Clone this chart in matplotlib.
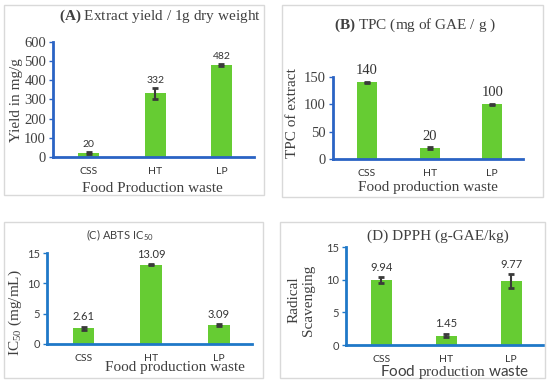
import matplotlib
matplotlib.use("Agg")
import matplotlib.pyplot as plt
from matplotlib.patches import Rectangle

W, H = 550, 383
DPI = 100

categories = ["CSS", "HT", "LP"]

yield_vals = [20, 332, 482]
yield_err = [5, 30, 5]

tpc_vals = [140, 20, 100]
tpc_err = [1.5, 1.5, 1.5]

abts_vals = [2.61, 13.09, 3.09]
abts_err = [0.25, 0.12, 0.2]

dpph_vals = [9.94, 1.45, 9.77]
dpph_err = [0.4, 0.3, 1.1]

SERIF = "Liberation Serif"
SANS = "Lato"
GREEN = "#66cc33"
ERRC = "#3a3a3a"
BORDER = "#d9d9d9"
TXT = "#404040"

plt.rcParams["mathtext.fontset"] = "custom"
plt.rcParams["mathtext.rm"] = SERIF
plt.rcParams["mathtext.it"] = SERIF + ":italic"
plt.rcParams["mathtext.bf"] = SERIF + ":bold"
plt.rcParams["mathtext.sf"] = SANS

fig = plt.figure(figsize=(W / DPI, H / DPI), dpi=DPI)
fig.patch.set_facecolor("white")


def fx(px):
    return px / W


def fy(py):
    return 1 - py / H


def box(x0, y0, x1, y1):
    fig.patches.append(Rectangle((fx(x0), fy(y1)), fx(x1) - fx(x0), fy(y0) - fy(y1),
                                 transform=fig.transFigure, fill=False,
                                 edgecolor=BORDER, linewidth=1.0))


def panel(x0, x1, ytop, ybot, vals, errs, ylim, yticks, spine_col,
          tick_font, tick_size, val_font, val_size, val_off):
    ax = fig.add_axes([fx(x0), fy(ybot), fx(x1) - fx(x0), fy(ytop) - fy(ybot)])
    xs = range(len(categories))
    ax.bar(xs, vals, width=0.32, color=GREEN, zorder=2)
    ax.errorbar(xs, vals, yerr=errs, fmt="none", ecolor=ERRC, elinewidth=1.5,
                capsize=2.5, capthick=2, zorder=3)
    ax.set_xlim(-0.54, 2.49)
    ax.set_ylim(*ylim)
    ax.set_yticks(yticks)
    for s in ["top", "right"]:
        ax.spines[s].set_visible(False)
    for s in ["left", "bottom"]:
        ax.spines[s].set_color(spine_col)
        ax.spines[s].set_linewidth(2)
    ax.tick_params(axis="x", length=0, pad=7, labelsize=7.5, labelcolor="#333333")
    ax.tick_params(axis="y", length=3, width=1, color=spine_col, pad=2,
                   labelsize=tick_size, labelcolor=TXT)
    ax.set_xticks(list(xs))
    ax.set_xticklabels(categories, fontfamily=SANS)
    for lab in ax.get_yticklabels():
        lab.set_fontfamily(tick_font)
    ax.patch.set_alpha(0)
    for x, v, e in zip(xs, vals, errs):
        txt = f"{v:g}" if isinstance(v, int) else f"{v:.2f}"
        ax.annotate(txt, xy=(x, v + e), xytext=(0, val_off), textcoords="offset points",
                    ha="center", va="bottom", fontfamily=val_font, fontsize=val_size,
                    color="#333333")
    return ax


# boxes
box(4, 5, 264, 195)
box(282, 5, 543, 197)
box(4, 222, 263, 378)
box(280, 222, 545, 378)

# Panel A
axA = panel(53, 254, 42, 157, yield_vals, yield_err, (0, 600), range(0, 601, 100),
            "#2a63c4", SERIF, 10.5, SANS, 7.5, 2)
fig.text(fx(160), fy(16), r"$\mathbf{(A)}$ Extract yield / 1g dry weight", ha="center",
         va="center", fontfamily=SERIF, fontsize=11, color=TXT)
fig.text(fx(17), fy(100), "Yield in mg/g", rotation=90, ha="center", va="center",
         fontfamily=SERIF, fontsize=11, color=TXT)
fig.text(fx(152), fy(188), "Food Production waste", ha="center", va="center",
         fontfamily=SERIF, fontsize=11, color=TXT)

# Panel B
axB = panel(333, 523, 77, 159, tpc_vals, tpc_err, (0, 150), range(0, 151, 50),
            "#2a63c4", SERIF, 10.5, SERIF, 10.5, 3)
fig.text(fx(415), fy(25), r"$\mathbf{(B)}$ TPC (mg of GAE / g )", ha="center",
         va="center", fontfamily=SERIF, fontsize=11, color=TXT)
fig.text(fx(292), fy(113), "TPC of extract", rotation=90, ha="center", va="center",
         fontfamily=SERIF, fontsize=11, color=TXT)
fig.text(fx(428), fy(188), "Food production waste", ha="center", va="center",
         fontfamily=SERIF, fontsize=11, color=TXT)

# Panel C
axC = panel(47, 252, 253, 344, abts_vals, abts_err, (0, 15), range(0, 16, 5),
            "#1f78c8", SANS, 8, SANS, 8, 3)
fig.text(fx(120), fy(235), r"(C) ABTS IC$_{\mathsf{50}}$", ha="center", va="center",
         fontfamily=SANS, fontsize=8, color=TXT)
fig.text(fx(15), fy(313), r"IC$_{50}$ (mg/mL)", rotation=90, ha="center", va="center",
         fontfamily=SERIF, fontsize=11, color=TXT)
fig.text(fx(175), fy(368), "Food production waste", ha="center", va="center",
         fontfamily=SERIF, fontsize=11, color=TXT)

# Panel D
axD = panel(346, 543, 247, 345, dpph_vals, dpph_err, (0, 15), range(0, 16, 5),
            "#1f78c8", SANS, 8, SANS, 8, 3)
fig.text(fx(438), fy(236), "(D) DPPH (g-GAE/kg)", ha="center", va="center",
         fontfamily=SERIF, fontsize=11, color=TXT)
fig.text(fx(301), fy(300), "Radical\nScavenging", rotation=90, ha="center", va="center",
         fontfamily=SERIF, fontsize=11, color=TXT, linespacing=1.1)
fig.text(fx(455), fy(372), r"$\mathsf{Food}$ production $\mathsf{waste}$", ha="center",
         va="center", fontfamily=SERIF, fontsize=11, color=TXT)

fig.savefig("out.png", dpi=DPI)
